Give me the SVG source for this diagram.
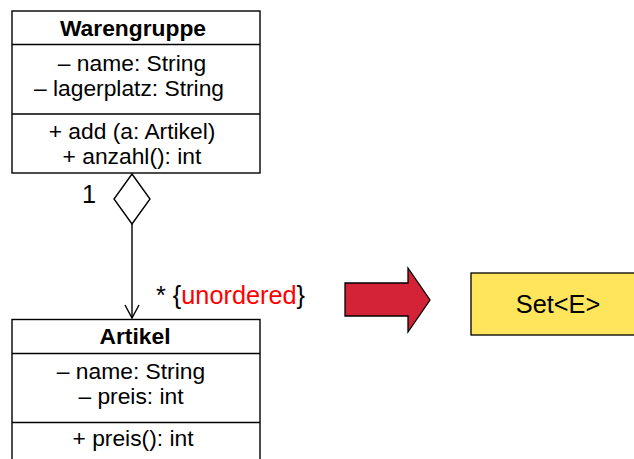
<svg xmlns="http://www.w3.org/2000/svg" width="634" height="459" viewBox="0 0 634 459">
<style>
text{font-family:"Liberation Sans",Arial,sans-serif;font-size:22.8px;fill:#000;text-anchor:middle}
.b{font-weight:bold}
.lbl{font-size:25.3px}
.box{fill:#fff;stroke:#000;stroke-width:1.4}
.ln{stroke:#000;stroke-width:1.4;fill:none}
</style>
<rect width="634" height="459" fill="#fff"/>
<g id="Warengruppe">
<rect class="box" x="12" y="11" width="248" height="162"/>
<line class="ln" x1="12" y1="44.5" x2="260" y2="44.5"/>
<line class="ln" x1="12" y1="114" x2="260" y2="114"/>
<text class="b" x="133" y="36">Warengruppe</text>
<text x="132" y="70.5">– name: String</text>
<text x="129" y="95.5">– lagerplatz: String</text>
<text x="132" y="139">+ add (a: Artikel)</text>
<text x="132" y="164">+ anzahl(): int</text>
</g>
<g id="Artikel">
<rect class="box" x="12" y="319.5" width="248" height="150"/>
<line class="ln" x1="12" y1="353.5" x2="260" y2="353.5"/>
<line class="ln" x1="12" y1="422.5" x2="260" y2="422.5"/>
<text class="b" x="135" y="344">Artikel</text>
<text x="131" y="379">– name: String</text>
<text x="131" y="404">– preis: int</text>
<text x="133" y="446">+ preis(): int</text>
</g>
<g id="connectors">
<polygon class="ln" points="132,174 150,199 132,224 114,199" fill="#fff"/>
<line class="ln" x1="132" y1="224" x2="132" y2="318"/>
<polyline class="ln" points="125,305 132,318 139,305"/>
<text class="lbl" x="89" y="203">1</text>
<text class="lbl" x="230.5" y="304">* {<tspan fill="#f00">unordered</tspan>}</text>
</g>
<g id="transform-arrow">
<polygon points="345,283 408,283 408,268 430,300 408,332 408,316 345,316" fill="#D42336" stroke="#000" stroke-width="1.3"/>
</g>
<g id="Set">
<rect x="471" y="273" width="170" height="62" fill="#FFE55C" stroke="#000" stroke-width="1.3"/>
<text class="lbl" x="558" y="313">Set&lt;E&gt;</text>
</g>
</svg>
